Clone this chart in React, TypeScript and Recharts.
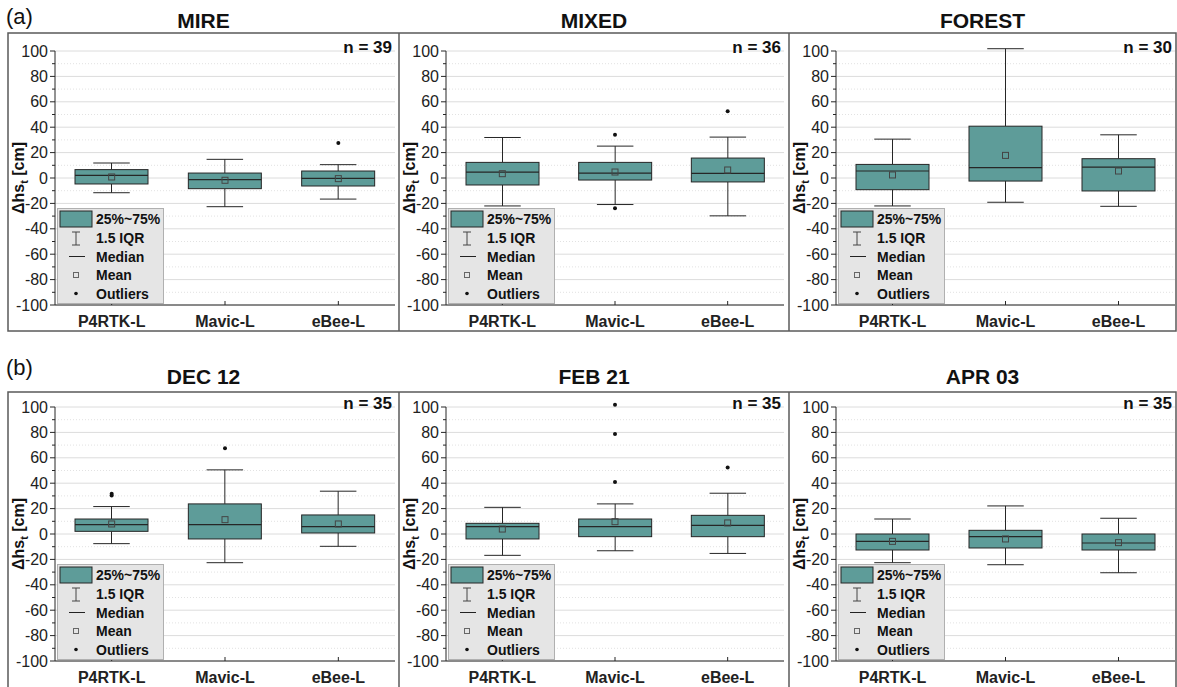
import React from "react";
import { Bar, CartesianGrid, ComposedChart, Scatter, XAxis, YAxis } from "recharts";

// categories and panels
const CATEGORIES = ["P4RTK-L", "Mavic-L", "eBee-L"];
const GROUP_TAGS = ["(a)", "(b)"];
const PANEL_TITLES = ["MIRE", "MIXED", "FOREST", "DEC 12", "FEB 21", "APR 03"];
const SAMPLE_SIZES = [39, 36, 30, 35, 35, 35];
const Y_TICKS = [-100, -90, -80, -70, -60, -50, -40, -30, -20, -10, 0, 10, 20, 30, 40, 50, 60, 70, 80, 90, 100];

// box plot statistics, one row per panel, one value per category (cm)
const WHISKER_LOW = [
  [-11.6, -22.6, -16.6],
  [-22, -20.9, -29.8],
  [-22, -19.1, -22.3],
  [-7.6, -22.6, -9.7],
  [-16.8, -13.2, -15.3],
  [-22.6, -24.2, -30.5],
];
const Q1 = [
  [-4.7, -8.4, -6.3],
  [-5.5, -1.6, -3.1],
  [-9.2, -2.4, -10.2],
  [2.1, -3.9, 0.8],
  [-3.9, -2.1, -2.1],
  [-12.6, -11, -12.6],
];
const MEDIAN = [
  [2.1, -1.3, -0.3],
  [4.7, 3.9, 3.7],
  [5.5, 8.1, 8.6],
  [7.4, 7.4, 5.8],
  [5.8, 5.8, 6.8],
  [-5.8, -2.1, -7.1],
];
const Q3 = [
  [6.6, 3.9, 5.5],
  [12.3, 12.3, 15.7],
  [10.7, 40.8, 15.2],
  [11.8, 23.7, 15],
  [8.4, 11.8, 14.7],
  [0, 2.9, 0],
];
const WHISKER_HIGH = [
  [11.8, 14.7, 10.5],
  [31.9, 25.1, 32.2],
  [30.6, 101.8, 34],
  [21.6, 50.5, 33.7],
  [21, 23.7, 32.1],
  [11.8, 22.1, 12.4],
];
const MEAN = [
  [0.8, -1.8, -0.5],
  [3.4, 4.7, 6.3],
  [2.4, 17.8, 5.5],
  [7.9, 11.3, 7.9],
  [3.9, 9.7, 8.7],
  [-5.8, -3.9, -6.8],
];
const OUTLIERS = [
  [[], [], [27.6]],
  [[], [34, -23.8], [52.6]],
  [[], [], []],
  [[31.6, 30.3], [67.6], []],
  [[], [101.8, 78.7, 41], [52.4]],
  [[], [], []],
];

const FONT = '"Liberation Sans", Arial, Helvetica, sans-serif';
const BOX_FILL = "#5e9c99";
const INK = "#262626";
const FRAME = "#5a5a5a";
const Y_AXIS_W = 45;
const X_AXIS_H = 26;

const COLS = [
  { left: 0, width: 399, plotLeft: 55, plotRight: 395 },
  { left: 399, width: 390, plotLeft: 446, plotRight: 784 },
  { left: 789, width: 388, plotLeft: 836, plotRight: 1175 },
];
const ROWS = [
  { top: 33, height: 298, plotTop: 51, plotBottom: 305, frameBottom: 331, titleY: 28, tagY: 24 },
  { top: 392, height: 295, plotTop: 407, plotBottom: 661, frameBottom: 688, titleY: 384, tagY: 375 },
];

const MAJOR = Y_TICKS.filter((v) => v % 20 === 0);
const MINOR = Y_TICKS.filter((v) => v % 20 !== 0);

function BoxShape(props: any) {
  const { x, y, width, height, payload } = props;
  const top = Math.min(y, y + height);
  const bottom = Math.max(y, y + height);
  const k = (bottom - top) / (payload.hi - payload.lo);
  const py = (v: number) => top + (payload.hi - v) * k;
  const cx = x + width / 2;
  const cap = width / 4;
  return (
    <g>
      <line x1={cx} x2={cx} y1={py(payload.hi)} y2={py(payload.q3)} stroke={INK} />
      <line x1={cx} x2={cx} y1={py(payload.q1)} y2={py(payload.lo)} stroke={INK} />
      <line x1={cx - cap} x2={cx + cap} y1={py(payload.hi)} y2={py(payload.hi)} stroke={INK} />
      <line x1={cx - cap} x2={cx + cap} y1={py(payload.lo)} y2={py(payload.lo)} stroke={INK} />
      <rect x={x} y={py(payload.q3)} width={width} height={py(payload.q1) - py(payload.q3)} fill={BOX_FILL} stroke={INK} />
      <line x1={x} x2={x + width} y1={py(payload.med)} y2={py(payload.med)} stroke={INK} strokeWidth={1.2} />
    </g>
  );
}

function MeanMarker(props: any) {
  const { cx, cy } = props;
  return <rect x={cx - 3} y={cy - 3} width={6} height={6} fill="none" stroke="#444" strokeWidth={1} />;
}

const outlierShape = (key: string) => (props: any) => {
  if (props.payload == null || props.payload[key] == null) return <g />;
  return <circle cx={props.cx} cy={props.cy} r={2} fill="#111" />;
};

function YTick(props: any) {
  const { x, y, payload } = props;
  const major = payload.value % 20 === 0;
  return (
    <g>
      <line x1={x} x2={x - (major ? 5 : 3)} y1={y} y2={y} stroke={INK} />
      {major && (
        <text x={x - 7} y={y} dy={5.5} textAnchor="end" fontSize={16} fontFamily={FONT} fill="#222">
          {payload.value}
        </text>
      )}
    </g>
  );
}

function XTick(props: any) {
  const { x, y, payload } = props;
  return (
    <g>
      <line x1={x} x2={x} y1={y} y2={y - 4} stroke={INK} />
      <text x={x} y={y + 22} textAnchor="middle" fontSize={16} fontWeight="bold" fontFamily={FONT} fill="#222">
        {payload.value}
      </text>
    </g>
  );
}

function Legend({ left, top }: { left: number; top: number }) {
  const text = { fontSize: 14, fontWeight: "bold" as const, fontFamily: FONT, fill: "#111" };
  const rows = [11, 30, 48.5, 67, 85.5];
  return (
    <svg style={{ position: "absolute", left, top }} width={107} height={96}>
      <rect x={0.5} y={0.5} width={106} height={95} fill="#e5e5e5" stroke="#b0b0b0" />
      <rect x={3} y={3} width={32} height={16} fill={BOX_FILL} stroke={INK} />
      <line x1={19} x2={19} y1={24} y2={37} stroke="#444" />
      <line x1={15} x2={23} y1={24} y2={24} stroke="#444" />
      <line x1={15} x2={23} y1={37} y2={37} stroke="#444" />
      <line x1={12} x2={28} y1={rows[2]} y2={rows[2]} stroke="#222" />
      <rect x={16.5} y={rows[3] - 2.5} width={5} height={5} fill="none" stroke="#666" />
      <circle cx={19} cy={rows[4]} r={1.8} fill="#111" />
      <text x={39} y={rows[0] + 5} {...text}>25%~75%</text>
      <text x={39} y={rows[1] + 5} {...text}>1.5 IQR</text>
      <text x={39} y={rows[2] + 5} {...text}>Median</text>
      <text x={39} y={rows[3] + 5} {...text}>Mean</text>
      <text x={39} y={rows[4] + 5} {...text}>Outliers</text>
    </svg>
  );
}

function Panel({ p }: { p: number }) {
  const row = ROWS[Math.floor(p / 3)];
  const col = COLS[p % 3];
  const data = CATEGORIES.map((name, i) => ({
    name,
    lo: WHISKER_LOW[p][i],
    q1: Q1[p][i],
    med: MEDIAN[p][i],
    q3: Q3[p][i],
    hi: WHISKER_HIGH[p][i],
    mean: MEAN[p][i],
    o0: OUTLIERS[p][i][0] ?? null,
    o1: OUTLIERS[p][i][1] ?? null,
    o2: OUTLIERS[p][i][2] ?? null,
  }));
  return (
    <div style={{ position: "absolute", left: col.left, top: row.top }}>
      <ComposedChart
        width={col.width}
        height={row.height}
        data={data}
        margin={{
          top: row.plotTop - row.top,
          bottom: row.top + row.height - row.plotBottom - X_AXIS_H,
          left: col.plotLeft - col.left - Y_AXIS_W,
          right: col.left + col.width - col.plotRight,
        }}
      >
        <CartesianGrid vertical={false} horizontalValues={MAJOR} stroke="#dcdcdc" />
        <CartesianGrid vertical={false} horizontalValues={MINOR} stroke="#e2e2e2" strokeDasharray="1 2" />
        <XAxis dataKey="name" type="category" height={X_AXIS_H} tickSize={0} tickMargin={0} tickLine={false} stroke={INK} tick={<XTick />} interval={0} />
        <YAxis type="number" domain={[-100, 100]} allowDataOverflow ticks={Y_TICKS} interval={0} width={Y_AXIS_W} tickSize={0} tickMargin={0} tickLine={false} stroke={INK} tick={<YTick />} />
        <Bar dataKey={(d: any) => [d.lo, d.hi]} barSize={73} shape={<BoxShape />} isAnimationActive={false} />
        <Scatter dataKey="mean" shape={<MeanMarker />} isAnimationActive={false} />
        <Scatter dataKey="o0" shape={outlierShape("o0")} isAnimationActive={false} />
        <Scatter dataKey="o1" shape={outlierShape("o1")} isAnimationActive={false} />
        <Scatter dataKey="o2" shape={outlierShape("o2")} isAnimationActive={false} />
      </ComposedChart>
    </div>
  );
}

export default function App() {
  return (
    <div style={{ position: "absolute", left: 0, top: 0, width: 1177, height: 687, background: "#fff", overflow: "hidden" }}>
      <style>{`.recharts-bar, .recharts-scatter, .recharts-bar-rectangles { clip-path: none !important; }`}</style>
      <svg style={{ position: "absolute", left: 0, top: 0 }} width={1177} height={687}>
        {ROWS.map((row, r) => (
          <g key={r}>
            <rect x={8} y={row.top} width={1168} height={row.frameBottom - row.top} fill="none" stroke={FRAME} strokeWidth={1.5} />
            <line x1={399} x2={399} y1={row.top} y2={row.frameBottom} stroke={FRAME} strokeWidth={1.5} />
            <line x1={789} x2={789} y1={row.top} y2={row.frameBottom} stroke={FRAME} strokeWidth={1.5} />
            <text x={6} y={row.tagY} fontSize={22} fontFamily={FONT} fill="#111">{GROUP_TAGS[r]}</text>
            {COLS.map((col, c) => {
              const p = r * 3 + c;
              const right = c === 2 ? 1176 : COLS[c + 1].left;
              const cy = (row.plotTop + row.plotBottom) / 2;
              return (
                <g key={c}>
                  <text x={(Math.max(col.left, 8) + right) / 2} y={row.titleY} textAnchor="middle" fontSize={21} fontWeight="bold" fontFamily={FONT} fill="#111">
                    {PANEL_TITLES[p]}
                  </text>
                  <text transform={`translate(${col.plotLeft - 31},${cy}) rotate(-90)`} textAnchor="middle" fontSize={16} fontWeight="bold" fontFamily={FONT} fill="#111">
                    Δhs<tspan fontSize={11} dy={4}>t</tspan>
                    <tspan dy={-4}>{"\u00a0[cm]"}</tspan>
                  </text>
                </g>
              );
            })}
          </g>
        ))}
      </svg>
      {PANEL_TITLES.map((_, p) => (
        <Panel key={p} p={p} />
      ))}
      <svg style={{ position: "absolute", left: 0, top: 0, pointerEvents: "none" }} width={1177} height={687}>
        {PANEL_TITLES.map((_, p) => {
          const row = ROWS[Math.floor(p / 3)];
          const col = COLS[p % 3];
          return (
            <text key={p} x={col.plotRight - 3} y={row.plotTop + 2} textAnchor="end" fontSize={17} fontWeight="bold" fontFamily={FONT} fill="#111">
              n = {SAMPLE_SIZES[p]}
            </text>
          );
        })}
      </svg>
      {PANEL_TITLES.map((_, p) => (
        <Legend key={p} left={COLS[p % 3].plotLeft + 2} top={ROWS[Math.floor(p / 3)].plotBottom - 97} />
      ))}
    </div>
  );
}
